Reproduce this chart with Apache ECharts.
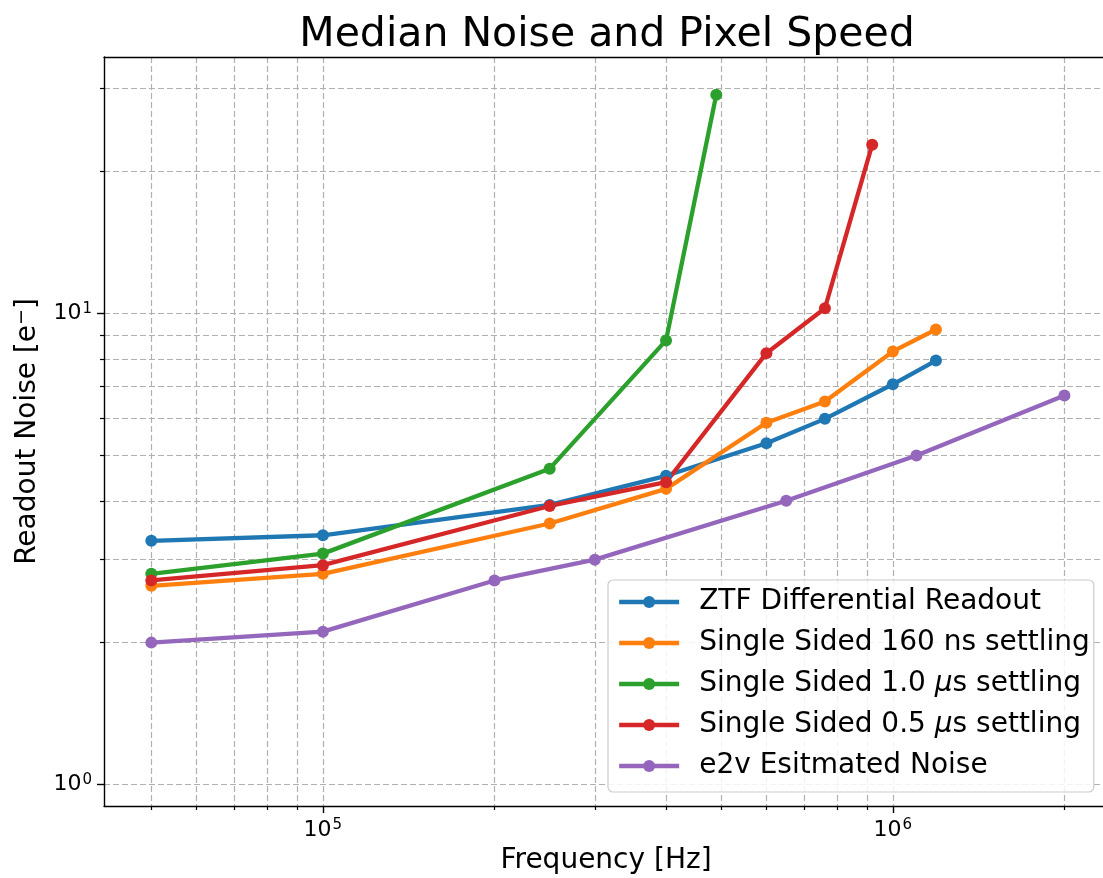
<!DOCTYPE html>
<html>
<head>
<meta charset="utf-8">
<style>
  html, body { margin: 0; padding: 0; background: #ffffff; }
  #chart { width: 1103px; height: 878px; }
</style>
<script src="https://cdn.jsdelivr.net/npm/echarts@6/dist/echarts.min.js"></script>
</head>
<body>
<div id="chart"></div>
<script>
// Readout noise (e-) versus pixel frequency (Hz) for each readout configuration
const freqZTF   = [5e4, 1e5, 2.5e5, 4e5, 6e5, 7.6e5, 1e6, 1.19e6];
const noiseZTF  = [3.29, 3.38, 3.92, 4.52, 5.30, 5.97, 7.07, 7.94];

const freq160   = [5e4, 1e5, 2.5e5, 4e5, 6e5, 7.6e5, 1e6, 1.19e6];
const noise160  = [2.64, 2.80, 3.58, 4.24, 5.86, 6.50, 8.30, 9.24];

const freq1us   = [5e4, 1e5, 2.5e5, 4e5, 4.9e5];
const noise1us  = [2.80, 3.09, 4.68, 8.76, 29.1];

const freq05us  = [5e4, 1e5, 2.5e5, 4e5, 6e5, 7.6e5, 9.2e5];
const noise05us = [2.71, 2.92, 3.90, 4.38, 8.23, 10.25, 22.8];

const freqE2v   = [5e4, 1e5, 2e5, 3e5, 6.5e5, 1.1e6, 2e6];
const noiseE2v  = [2.0, 2.11, 2.71, 3.0, 4.0, 4.99, 6.69];

const seriesNames = [
  'ZTF Differential Readout',
  'Single Sided 160 ns settling',
  'Single Sided 1.0 μs settling',
  'Single Sided 0.5 μs settling',
  'e2v Esitmated Noise'
];
const seriesColors = ['#1f77b4', '#ff7f0e', '#2ca02c', '#d62728', '#9467bd'];

// Log-axis ticks: decades get labels, the rest are minor grid positions
const xMajorTicks = [1e5, 1e6];
const xMinorTicks = [5e4, 6e4, 7e4, 8e4, 9e4, 2e5, 3e5, 4e5, 5e5, 6e5, 7e5, 8e5, 9e5, 2e6];
const yMajorTicks = [1, 10];
const yMinorTicks = [2, 3, 4, 5, 6, 7, 8, 9, 20, 30];

const xRange = [41300, 2.385e6];
const yRange = [0.9, 35];

const FONT = 'DejaVu Sans';
const LINE_W = 4.3;
const gridDash = { color: '#b0b0b0', width: 1.2, type: [6, 3] };

function pairs(xs, ys) { return xs.map((x, i) => [x, ys[i]]); }
const seriesData = [
  pairs(freqZTF, noiseZTF),
  pairs(freq160, noise160),
  pairs(freq1us, noise1us),
  pairs(freq05us, noise05us),
  pairs(freqE2v, noiseE2v)
];

function powerLabel(v) {
  return '{b|10}{s|' + Math.round(Math.log10(v)) + '}';
}
const powerRich = {
  b: { fontFamily: FONT, fontSize: 22, color: '#000', lineHeight: 24 },
  s: { fontFamily: FONT, fontSize: 15, color: '#000', verticalAlign: 'top', lineHeight: 15, padding: [0, 0, 9, 1] }
};

function logAxis(range, extra) {
  return Object.assign({
    type: 'log',
    logBase: 10,
    min: range[0],
    max: range[1],
    axisLine: { show: false },
    axisTick: { show: false },
    axisLabel: { show: false },
    splitLine: { show: false },
    minorTick: { show: false },
    minorSplitLine: { show: false }
  }, extra);
}

const chart = echarts.init(document.getElementById('chart'), null, { renderer: 'canvas' });

chart.setOption({
  animation: false,
  backgroundColor: '#ffffff',
  title: {
    text: 'Median Noise and Pixel Speed',
    left: 607,
    textAlign: 'center',
    top: 15,
    padding: 0,
    textStyle: { fontFamily: FONT, fontSize: 41, fontWeight: 'normal', color: '#000' }
  },
  grid: { left: 104, top: 57, width: 1004, height: 749, outerBoundsMode: 'none' },
  xAxis: [
    logAxis(xRange, {
      position: 'bottom',
      name: 'Frequency [Hz]',
      nameLocation: 'middle',
      nameGap: 41,
      nameTextStyle: { fontFamily: FONT, fontSize: 28, color: '#000' },
      axisLine: { show: true, lineStyle: { color: '#000', width: 1.4 } },
      axisTick: { show: true, customValues: xMajorTicks, length: 7, lineStyle: { color: '#000', width: 1.4 } },
      axisLabel: { show: true, customValues: xMajorTicks, margin: 12, formatter: powerLabel, rich: powerRich },
      splitLine: { show: true, lineStyle: gridDash }
    }),
    logAxis(xRange, {
      position: 'bottom',
      axisTick: { show: true, customValues: xMinorTicks, length: 4, lineStyle: { color: '#000', width: 1.2 } },
      splitLine: { show: true, lineStyle: gridDash }
    }),
    logAxis(xRange, {
      position: 'top',
      axisLine: { show: true, lineStyle: { color: '#000', width: 1.4 } }
    })
  ],
  yAxis: [
    logAxis(yRange, {
      position: 'left',
      name: 'Readout Noise [e{s|−}]',
      nameLocation: 'middle',
      nameGap: 62,
      nameTextStyle: {
        fontFamily: FONT, fontSize: 28, color: '#000',
        rich: { s: { fontFamily: FONT, fontSize: 19, color: '#000', verticalAlign: 'top', padding: [0, 0, 10, 0] } }
      },
      axisLine: { show: true, lineStyle: { color: '#000', width: 1.4 } },
      axisTick: { show: true, customValues: yMajorTicks, length: 7, lineStyle: { color: '#000', width: 1.4 } },
      axisLabel: { show: true, customValues: yMajorTicks, margin: 12, formatter: powerLabel, rich: powerRich },
      splitLine: { show: true, lineStyle: gridDash }
    }),
    logAxis(yRange, {
      position: 'left',
      axisTick: { show: true, customValues: yMinorTicks, length: 4, lineStyle: { color: '#000', width: 1.2 } },
      splitLine: { show: true, lineStyle: gridDash }
    })
  ],
  legend: {
    orient: 'vertical',
    left: 608,
    top: 580,
    padding: [8, 4, 12, 9],
    itemWidth: 60,
    itemHeight: 15,
    itemGap: 13,
    backgroundColor: 'rgba(255,255,255,0.85)',
    borderColor: '#cccccc',
    borderWidth: 1.2,
    borderRadius: 5,
    lineStyle: { width: LINE_W },
    data: seriesNames,
    formatter: function (name) {
      const parts = name.split('μ');
      if (parts.length === 1) return '{n|' + name + '}';
      return '{n|' + parts[0] + '}{i|μ}{n|' + parts[1] + '}';
    },
    textStyle: {
      padding: [0, 0, 0, 15],
      rich: {
        n: { fontFamily: FONT, fontSize: 28, color: '#000', lineHeight: 28 },
        i: { fontFamily: FONT, fontSize: 28, fontStyle: 'italic', color: '#000', lineHeight: 28 }
      }
    }
  },
  series: seriesNames.map((name, k) => ({
    name: name,
    type: 'line',
    xAxisIndex: 0,
    yAxisIndex: 0,
    data: seriesData[k],
    symbol: 'circle',
    symbolSize: 12,
    showSymbol: true,
    showAllSymbol: true,
    color: seriesColors[k],
    lineStyle: { width: LINE_W, color: seriesColors[k] },
    itemStyle: { color: seriesColors[k] },
    emphasis: { disabled: true }
  }))
});
</script>
</body>
</html>
